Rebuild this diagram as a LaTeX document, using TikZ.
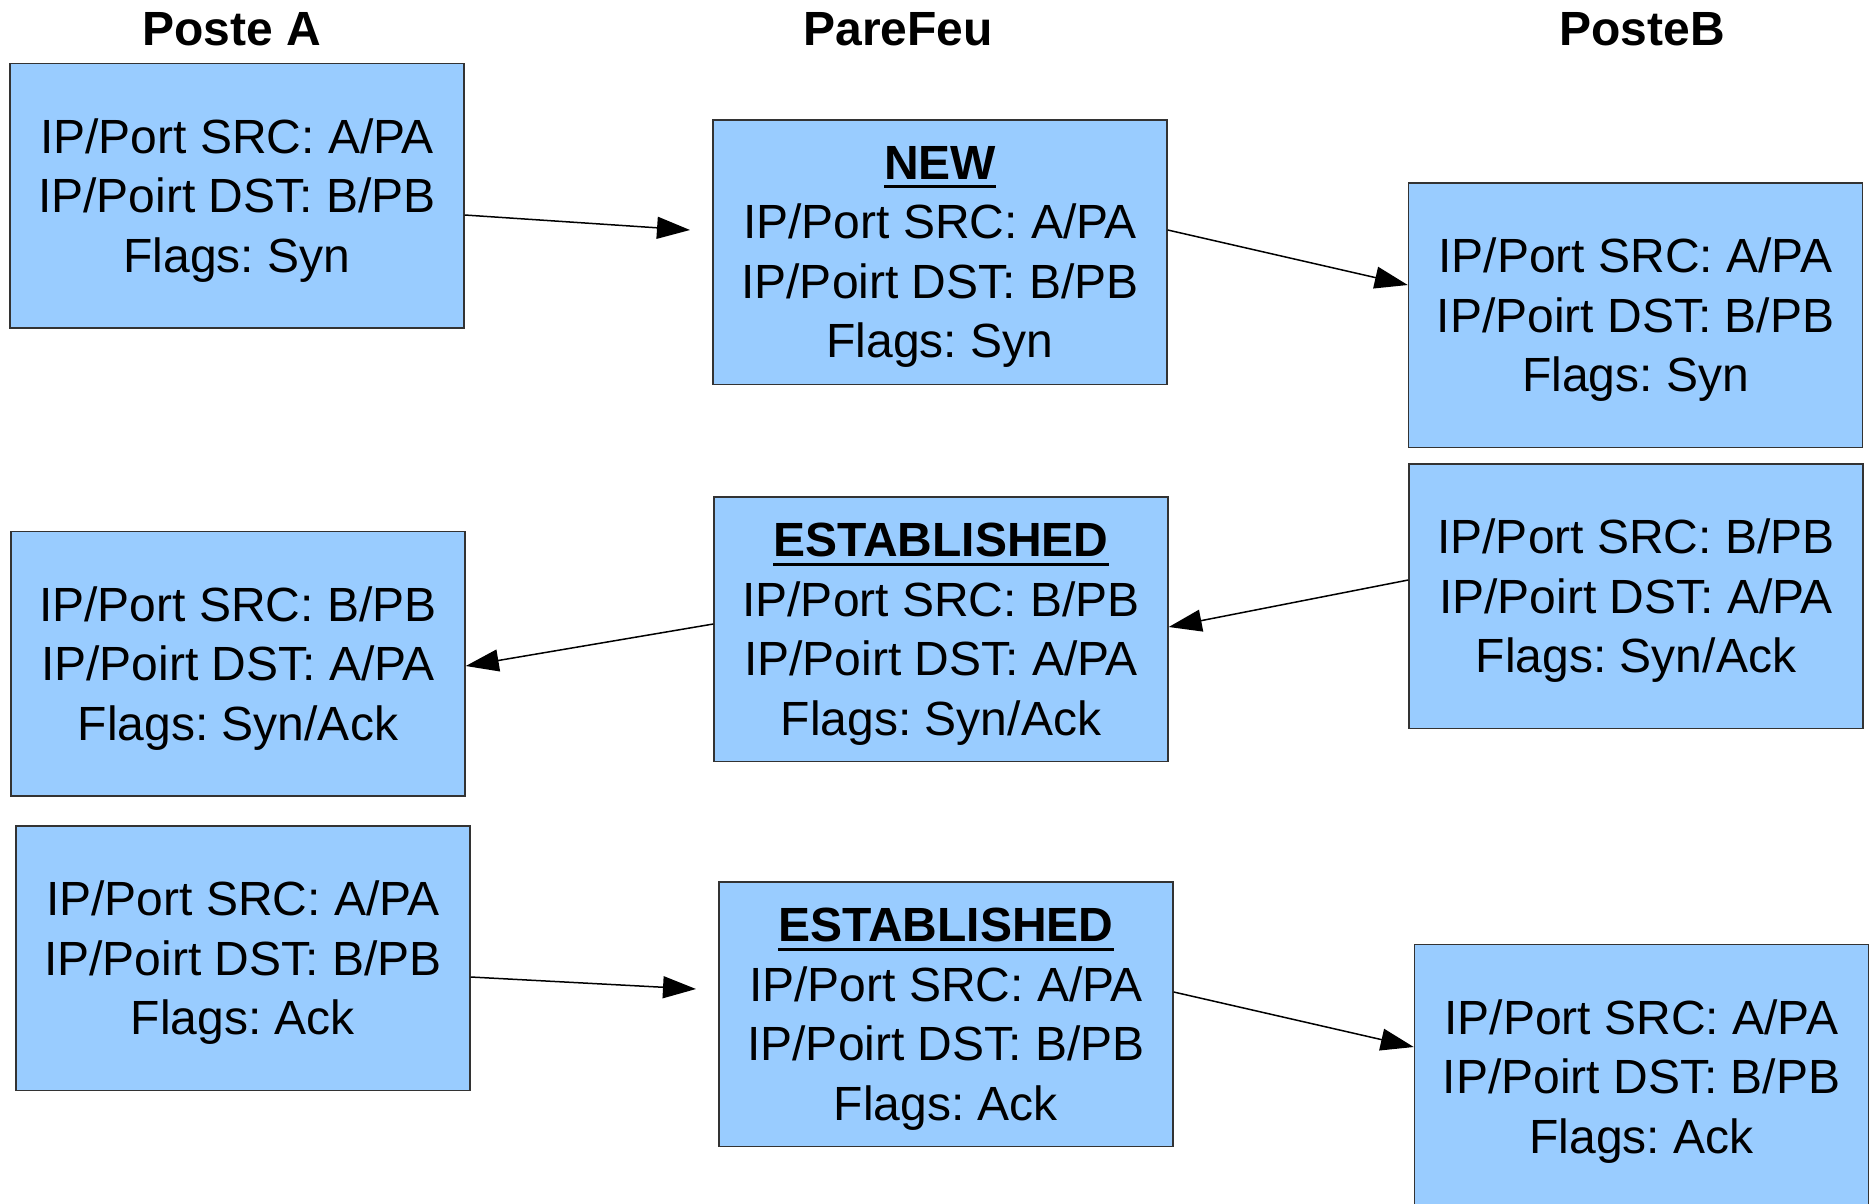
\documentclass[tikz,border=0pt]{standalone}
\usepackage{fontspec}
\setmainfont{Liberation Sans}
\usetikzlibrary{arrows.meta}
\definecolor{boxblue}{HTML}{99CCFF}
\definecolor{boxline}{HTML}{333333}
\newsavebox\ulsave
\newcommand\ulhead[1]{\sbox\ulsave{\bfseries #1}\usebox\ulsave\llap{\raisebox{-9pt}{\rule{\wd\ulsave}{3pt}}}}
\frenchspacing
\begin{document}
\begin{tikzpicture}[x=1pt,y=-1pt,
  pbox/.style={draw=boxline, line width=1.5pt, fill=boxblue,
    minimum width=454pt, minimum height=264.5pt, inner sep=0pt,
    align=center, font=\fontsize{48}{59.5}\selectfont\frenchspacing},
  coltitle/.style={font=\fontsize{48}{58}\selectfont\bfseries, anchor=base, inner sep=0pt},
  arr/.style={line width=1.5pt, draw=black, -{Triangle[length=33pt,width=22pt]}}]
\useasboundingbox (0,0) rectangle (1871,1203);
\clip (0,0) rectangle (1871,1203);

% column titles
\node[coltitle] (tA) at (232,45) {Poste A};
\node[coltitle] (tF) at (898,45) {PareFeu};
\node[coltitle] (tB) at (1642,45) {PosteB};

% row 1
\node[pbox] (a1) at (237,195.5) {IP/Port SRC: A/PA\\IP/Poirt DST: B/PB\\\smash{Flags: Syn}};
\node[pbox] (f1) at (940,252) {\ulhead{NEW}\\IP/Port SRC: A/PA\\IP/Poirt DST: B/PB\\\smash{Flags: Syn}};
\node[pbox] (b1) at (1635.5,315) {IP/Port SRC: A/PA\\IP/Poirt DST: B/PB\\\smash{Flags: Syn}};

% row 2
\node[pbox] (b2) at (1636,596) {IP/Port SRC: B/PB\\IP/Poirt DST: A/PA\\\smash{Flags: Syn/Ack}};
\node[pbox] (f2) at (941,629) {\ulhead{ESTABLISHED}\\IP/Port SRC: B/PB\\IP/Poirt DST: A/PA\\\smash{Flags: Syn/Ack}};
\node[pbox] (a2) at (238,663.5) {IP/Port SRC: B/PB\\IP/Poirt DST: A/PA\\\smash{Flags: Syn/Ack}};

% row 3
\node[pbox] (a3) at (243,958) {IP/Port SRC: A/PA\\IP/Poirt DST: B/PB\\\smash{Flags: Ack}};
\node[pbox] (f3) at (946,1014) {\ulhead{ESTABLISHED}\\IP/Port SRC: A/PA\\IP/Poirt DST: B/PB\\\smash{Flags: Ack}};
\node[pbox] (b3) at (1641.5,1076.5) {IP/Port SRC: A/PA\\IP/Poirt DST: B/PB\\\smash{Flags: Ack}};

% free arrow ends
\coordinate (t1) at (690,230);
\coordinate (t5) at (696,989);

% connectors
\draw[arr] ([yshift=-19.5pt]a1.east) -- (t1);
\draw[arr] ([yshift=22pt]f1.east) -- ([yshift=30pt]b1.west);
\draw[arr] ([yshift=16pt]b2.west) -- ([yshift=2pt]f2.east);
\draw[arr] ([yshift=5pt]f2.west) -- ([yshift=-2.5pt]a2.east);
\draw[arr] ([yshift=-19pt]a3.east) -- (t5);
\draw[arr] ([yshift=22pt]f3.east) -- ([yshift=29.5pt]b3.west);
\end{tikzpicture}
\end{document}
